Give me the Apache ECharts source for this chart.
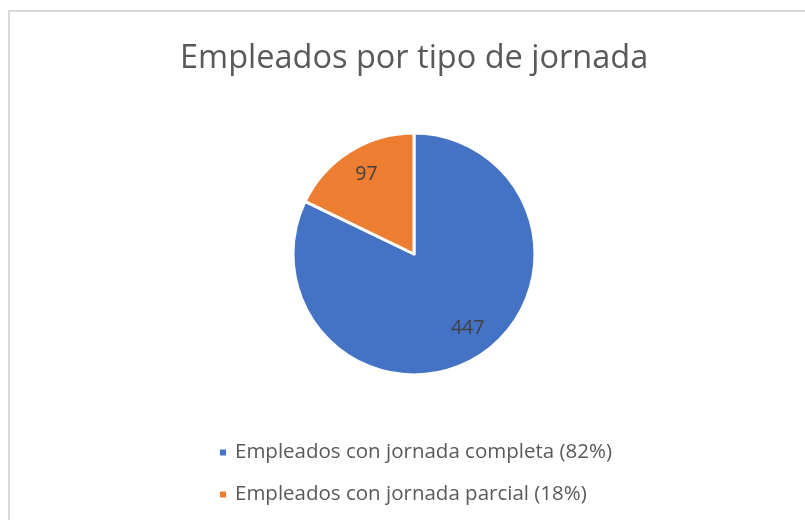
<!DOCTYPE html>
<html>
<head>
<meta charset="utf-8">
<script src="https://cdn.jsdelivr.net/npm/echarts@6/dist/echarts.min.js"></script>
<style>
  html, body { margin: 0; padding: 0; background: #fff; }
  #chart { width: 805px; height: 520px; }
</style>
</head>
<body>
<div id="chart"></div>
<script>
const categories = ['Empleados con jornada completa', 'Empleados con jornada parcial']
const values = [447, 97]
const colors = ['#4472C4', '#ED7D31']

const total = values.reduce((a, b) => a + b, 0)
const center = [414, 254]
const radius = 121

const chart = echarts.init(document.getElementById('chart'))

chart.setOption({
  animation: false,
  textStyle: { fontFamily: 'Open Sans' },
  title: {
    text: 'Empleados por tipo de jornada',
    left: 175,
    top: 37,
    textStyle: { fontSize: 32.5, fontWeight: 'normal', color: '#595959', fontFamily: 'Open Sans' }
  },
  legend: {
    orient: 'vertical',
    left: 213,
    top: 437,
    itemWidth: 8,
    itemHeight: 8,
    itemGap: 21,
    icon: 'rect',
    textStyle: { fontSize: 20.5, color: '#595959', padding: [0, 0, 0, 3] },
    formatter: (name) => {
      const v = values[categories.indexOf(name)]
      return `${name} (${Math.round((v / total) * 100)}%)`
    }
  },
  graphic: [{
    type: 'rect',
    shape: { x: 9, y: 11, width: 900, height: 600 },
    style: { fill: 'none', stroke: '#d9d9d9', lineWidth: 2 },
    silent: true
  }],
  series: [{
    type: 'pie',
    center: center,
    radius: radius,
    startAngle: 90,
    clockwise: true,
    itemStyle: { borderColor: '#fff', borderWidth: 3 },
    label: {
      show: true,
      position: 'inside',
      formatter: '{c}',
      fontSize: 19.5,
      color: '#404040'
    },
    // push the inside labels further out, like Excel does
    labelLayout: (params) => {
      const r = params.labelRect
      const cx = r.x + r.width / 2
      const cy = r.y + r.height / 2
      const k = 1.5
      return {
        x: center[0] + (cx - center[0]) * k + 3,
        y: center[1] + (cy - center[1]) * k + (params.dataIndex === 0 ? -6 : 1),
        align: 'center',
        verticalAlign: 'middle'
      }
    },
    data: categories.map((name, i) => ({
      name: name,
      value: values[i],
      itemStyle: { color: colors[i] }
    }))
  }]
})
</script>
</body>
</html>
